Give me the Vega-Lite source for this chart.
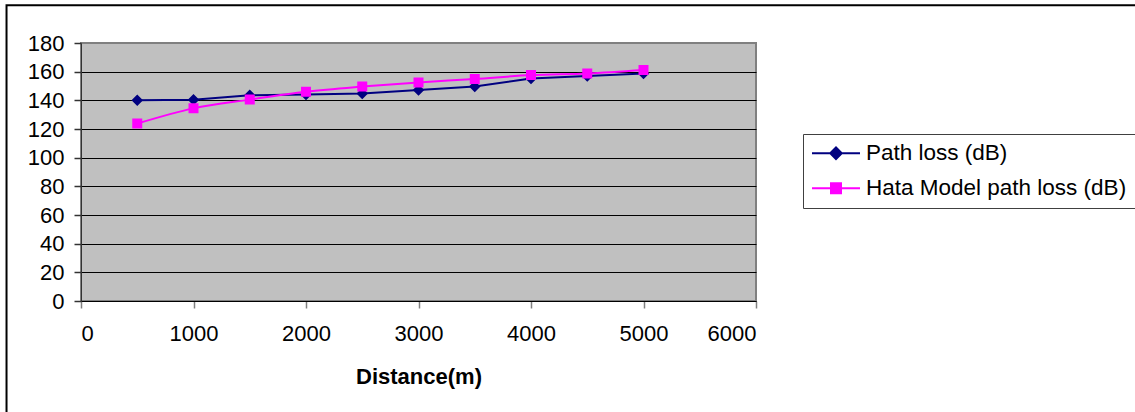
{
  "$schema": "https://vega.github.io/schema/vega-lite/v6.json",
  "width": 675,
  "height": 258,
  "autosize": {"type": "none"},
  "padding": {"left": 81, "top": 43, "right": 379, "bottom": 111},
  "background": "white",
  "config": {
    "font": "Liberation Sans",
    "view": {"fill": "#C0C0C0", "stroke": "#808080", "strokeWidth": 2},
    "axis": {"labelOverlap": false},
    "legend": {
      "orient": "none", "legendX": 722, "legendY": 91,
      "symbolSize": 100, "symbolStrokeWidth": 2, "symbolOffset": 13.75,
      "labelFontSize": 22.5, "labelFont": "Liberation Sans", "labelColor": "#000000", "labelLimit": 500,
      "labelOffset": 18.75, "padding": 8, "rowPadding": 12,
      "fillColor": "#FFFFFF", "strokeColor": "#404040"
    }
  },
  "data": {
    "values": [
      {"distance": 500, "series": "Path loss (dB)", "loss": 140.0},
      {"distance": 1000, "series": "Path loss (dB)", "loss": 140.4},
      {"distance": 1500, "series": "Path loss (dB)", "loss": 143.5},
      {"distance": 2000, "series": "Path loss (dB)", "loss": 144.1},
      {"distance": 2500, "series": "Path loss (dB)", "loss": 144.8},
      {"distance": 3000, "series": "Path loss (dB)", "loss": 147.2},
      {"distance": 3500, "series": "Path loss (dB)", "loss": 149.6},
      {"distance": 4000, "series": "Path loss (dB)", "loss": 155.2},
      {"distance": 4500, "series": "Path loss (dB)", "loss": 156.9},
      {"distance": 5000, "series": "Path loss (dB)", "loss": 158.8},
      {"distance": 500, "series": "Hata Model path loss (dB)", "loss": 123.8},
      {"distance": 1000, "series": "Hata Model path loss (dB)", "loss": 134.4},
      {"distance": 1500, "series": "Hata Model path loss (dB)", "loss": 140.5},
      {"distance": 2000, "series": "Hata Model path loss (dB)", "loss": 146.0},
      {"distance": 2500, "series": "Hata Model path loss (dB)", "loss": 149.6},
      {"distance": 3000, "series": "Hata Model path loss (dB)", "loss": 152.5},
      {"distance": 3500, "series": "Hata Model path loss (dB)", "loss": 154.9},
      {"distance": 4000, "series": "Hata Model path loss (dB)", "loss": 157.6},
      {"distance": 4500, "series": "Hata Model path loss (dB)", "loss": 158.8},
      {"distance": 5000, "series": "Hata Model path loss (dB)", "loss": 161.2}
    ]
  },
  "layer": [
    {
      "data": {"values": [{"frame": "outer"}]},
      "mark": {"type": "rect", "filled": false, "stroke": "black", "strokeWidth": 2, "clip": false},
      "encoding": {
        "x": {"datum": -662, "type": "quantitative", "scale": {"domain": [0, 6000], "nice": false, "zero": true},
          "axis": {
            "tickCount": 6,
            "format": "d",
            "grid": false,
            "labelOverlap": false,
            "domainColor": "#000000", "domainWidth": 1,
            "tickColor": "#808080", "tickSize": 7, "tickWidth": 1.5,
            "labelFontSize": 22, "labelColor": "#000000", "labelPadding": 15, "labelFont": "Liberation Sans",
            "title": "Distance(m)", "titleFontSize": 22, "titleFontWeight": "bold", "titleColor": "#000000",
            "titleFont": "Liberation Sans", "titleBaseline": "alphabetic", "titleY": 82
          }
        },
        "x2": {"datum": 12000},
        "y": {"datum": 206.3, "type": "quantitative", "scale": {"domain": [0, 180], "nice": false, "zero": true},
          "axis": {
            "tickCount": 9,
            "format": "d",
            "grid": true,
            "labelOverlap": false,
            "labelBound": false,
            "gridColor": {"condition": {"test": "datum.value === 180", "value": "#808080"}, "value": "#000000"},
            "gridWidth": 1,
            "domainColor": "#333333", "domainWidth": 1,
            "tickColor": "#333333", "tickSize": 7, "tickWidth": 1.5,
            "labelFontSize": 22, "labelColor": "#000000", "labelPadding": 10, "labelFont": "Liberation Sans",
            "title": null
          }
        },
        "y2": {"datum": -150}
      }
    },
    {
      "transform": [{"filter": "datum.series === 'Path loss (dB)'"}],
      "mark": {"type": "line", "strokeWidth": 2, "interpolate": "linear"},
      "encoding": {
        "x": {"field": "distance", "type": "quantitative"},
        "y": {"field": "loss", "type": "quantitative"},
        "stroke": {"field": "series", "type": "nominal",
          "scale": {"domain": ["Path loss (dB)", "Hata Model path loss (dB)"], "range": ["#000080", "#FF00FF"]},
          "legend": {"title": null, "orient": "none", "legendX": 722, "legendY": 91}
        }
      }
    },
    {
      "transform": [{"filter": "datum.series !== 'Path loss (dB)'"}],
      "mark": {"type": "line", "strokeWidth": 2, "interpolate": "catmull-rom"},
      "encoding": {
        "x": {"field": "distance", "type": "quantitative"},
        "y": {"field": "loss", "type": "quantitative"},
        "stroke": {"field": "series", "type": "nominal", "legend": {"title": null}}
      }
    },
    {
      "mark": {"type": "point", "filled": true, "opacity": 1, "strokeWidth": 0, "size": 100},
      "encoding": {
        "x": {"field": "distance", "type": "quantitative"},
        "y": {"field": "loss", "type": "quantitative"},
        "stroke": {"field": "series", "type": "nominal", "legend": {"title": null}},
        "fill": {"field": "series", "type": "nominal",
          "scale": {"domain": ["Path loss (dB)", "Hata Model path loss (dB)"], "range": ["#000080", "#FF00FF"]},
          "legend": {"title": null}},
        "shape": {"field": "series", "type": "nominal",
          "scale": {"domain": ["Path loss (dB)", "Hata Model path loss (dB)"],
            "range": ["M-4.8,0H4.8M-1.15,0L0,-1.15L1.15,0L0,1.15Z", "M-4.8,0H4.8M-1,-1H1V1H-1Z"]},
          "legend": {"title": null}}
      }
    }
  ]
}
